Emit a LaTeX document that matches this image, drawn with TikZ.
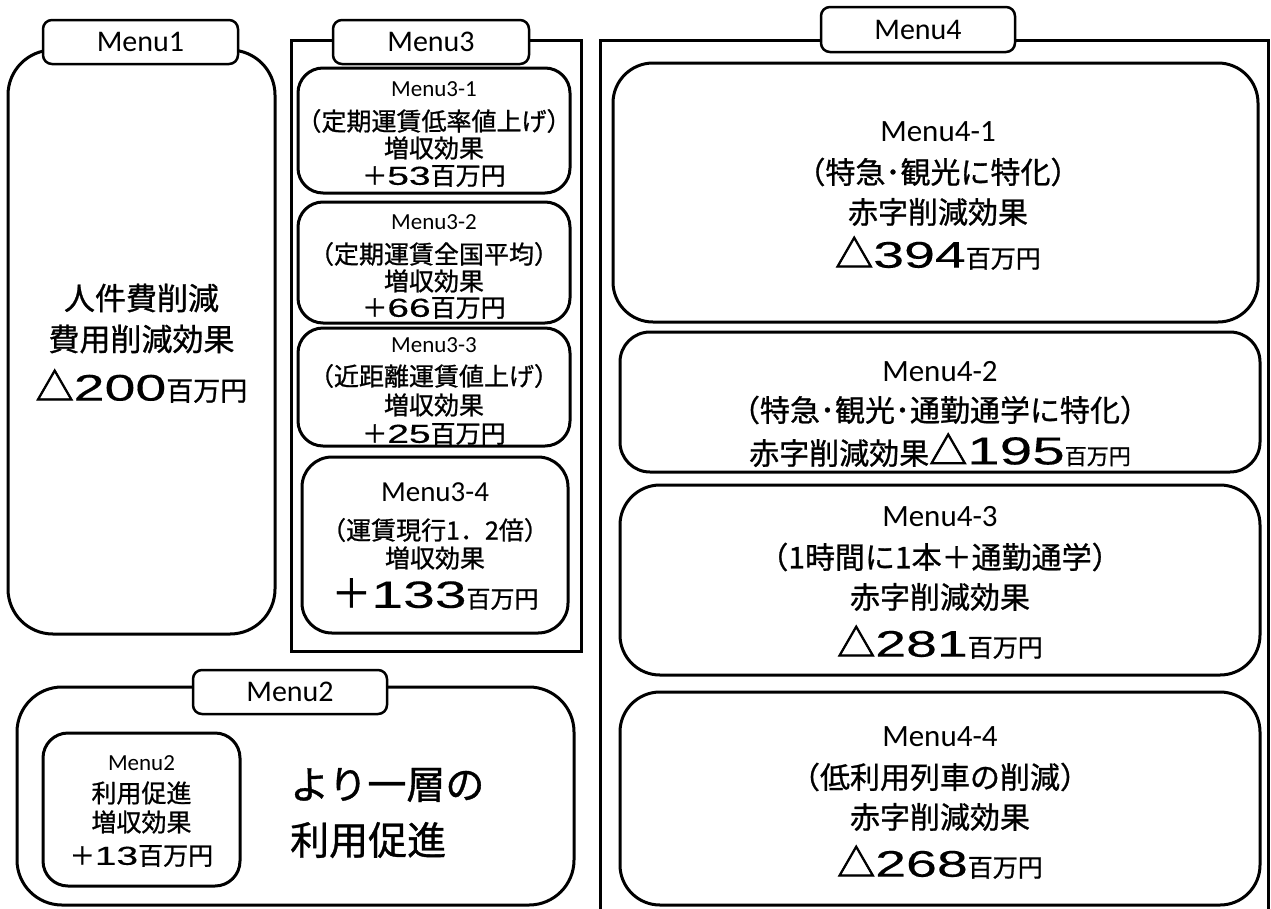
\documentclass[tikz,border=0pt]{standalone}
\usepackage{fontspec}
\setmainfont{Carlito}
\newfontfamily\jp[FakeBold=0.9]{Noto Sans CJK JP}
\newfontfamily\jptri[FakeBold=2.2]{Noto Sans CJK JP}
\newfontfamily\wdg[FakeStretch=1.5,FakeBold=0.3]{Liberation Sans}
\newcommand\fs[1]{\fontsize{#1}{#1}\selectfont}
\newcommand\tri{{\jptri\fs{38}△}}
\tikzset{
  frame/.style={draw, line width=3pt, rounded corners=45pt, inner sep=0pt},
  sqframe/.style={draw, line width=3pt, inner sep=0pt},
  tabbox/.style={draw, line width=2.5pt, fill=white, rounded corners=9pt, inner sep=0pt, font=\fs{30}},
  ibox/.style={draw, line width=3pt, rounded corners=#1, inner sep=0pt},
  txt/.style={inner sep=0pt, align=center},
}
\begin{document}
\begin{tikzpicture}[x=1pt,y=-1pt]
\useasboundingbox[fill=white] (0,0) rectangle (1271,908);

% ---------- Menu1 ----------
\node[frame, minimum width=267pt, minimum height=584pt] (f1) at (141.5,342) {};
\node[tabbox, minimum width=195pt, minimum height=44pt] (tab1) at (140.5,42) {Menu1};
\node[txt] (t1a) at (141.5,298) {\jp\fs{31}人件費削減};
\node[txt] (t1b) at (141.5,339) {\jp\fs{31}費用削減効果};
\node[txt] (t1c) at (141.5,386) {\tri\wdg\fs{37}200\jp\fs{27}百万円};

% ---------- Menu3 ----------
\node[sqframe, minimum width=290pt, minimum height=611pt] (f3) at (436,345.5) {};
\node[tabbox, minimum width=196pt, minimum height=44pt] (tab3) at (431,42) {Menu3};

\node[ibox=25pt, minimum width=272pt, minimum height=125pt] (m31) at (434,130.5) {};
\node[txt] (m31a) at (434,89) {\fs{23}Menu3-1};
\node[txt] (m31b) at (434,121) {\jp\fs{25}（定期運賃低率値上げ）};
\node[txt] (m31c) at (434,148) {\jp\fs{25}増収効果};
\node[txt] (m31d) at (434,176) {\jp\fs{25}＋\wdg\fs{26}53\jp\fs{25}百万円};

\node[ibox=25pt, minimum width=272pt, minimum height=121pt] (m32) at (434,262.5) {};
\node[txt] (m32a) at (434,222) {\fs{23}Menu3-2};
\node[txt] (m32b) at (434,254) {\jp\fs{25}（定期運賃全国平均）};
\node[txt] (m32c) at (434,281) {\jp\fs{25}増収効果};
\node[txt] (m32d) at (434,308) {\jp\fs{25}＋\wdg\fs{26}66\jp\fs{25}百万円};

\node[ibox=25pt, minimum width=272pt, minimum height=118pt] (m33) at (434,387) {};
\node[txt] (m33a) at (434,345) {\fs{23}Menu3-3};
\node[txt] (m33b) at (434,376) {\jp\fs{25}（近距離運賃値上げ）};
\node[txt] (m33c) at (434,405) {\jp\fs{25}増収効果};
\node[txt] (m33d) at (434,434) {\jp\fs{25}＋\wdg\fs{26}25\jp\fs{25}百万円};

\node[ibox=30pt, minimum width=266pt, minimum height=176pt] (m34) at (435,545) {};
\node[txt] (m34a) at (435,492) {\fs{29}Menu3-4};
\node[txt] (m34b) at (435,530) {\jp\fs{25}（運賃現行1．2倍）};
\node[txt] (m34c) at (435,558) {\jp\fs{25}増収効果};
\node[txt] (m34d) at (435,594) {\jp\fs{40}＋\wdg\fs{38}133\jp\fs{24}百万円};

% ---------- Menu2 ----------
\node[frame, minimum width=557pt, minimum height=218pt] (f2) at (295.5,796) {};
\node[tabbox, minimum width=194pt, minimum height=44pt] (tab2) at (290,692) {Menu2};
\node[ibox=25pt, minimum width=197pt, minimum height=153pt] (m2) at (141.5,809.5) {};
\node[txt] (m2a) at (141.5,763) {\fs{23}Menu2};
\node[txt] (m2b) at (141.5,793) {\jp\fs{25}利用促進};
\node[txt] (m2c) at (141.5,822) {\jp\fs{25}増収効果};
\node[txt] (m2d) at (141.5,856) {\jp\fs{25}＋\wdg\fs{26}13\jp\fs{25}百万円};
\node[txt, anchor=west] (big1) at (290,785) {\jp\fs{39}より一層の};
\node[txt, anchor=west] (big2) at (290,840) {\jp\fs{39}利用促進};

% ---------- Menu4 ----------
\node[sqframe, minimum width=668pt, minimum height=890pt] (f4) at (934,485) {};
\node[tabbox, minimum width=194pt, minimum height=45pt] (tab4) at (918,29.5) {Menu4};

\node[ibox=40pt, minimum width=645pt, minimum height=259pt] (m41) at (935.5,192.5) {};
\node[txt] (m41a) at (938,132) {\fs{31}Menu4-1};
\node[txt] (m41b) at (938,172) {\jp\fs{30}（特急･観光に特化）};
\node[txt] (m41c) at (938,212) {\jp\fs{30}赤字削減効果};
\node[txt] (m41d) at (938,253) {\tri\wdg\fs{37}394\jp\fs{25}百万円};

\node[ibox=30pt, minimum width=640pt, minimum height=140pt] (m42) at (940,402) {};
\node[txt] (m42a) at (940,372) {\fs{31}Menu4-2};
\node[txt] (m42b) at (940,410) {\jp\fs{30}（特急･観光･通勤通学に特化）};
\node[txt] (m42c) at (940,450) {\jp\fs{30}赤字削減効果\tri\wdg\fs{39}195\jp\fs{22}百万円};

\node[ibox=40pt, minimum width=640pt, minimum height=190pt] (m43) at (940,580) {};
\node[txt] (m43a) at (940,517) {\fs{31}Menu4-3};
\node[txt] (m43b) at (940,557) {\jp\fs{30}（1時間に1本＋通勤通学）};
\node[txt] (m43c) at (940,597) {\jp\fs{30}赤字削減効果};
\node[txt] (m43d) at (940,642) {\tri\wdg\fs{37}281\jp\fs{25}百万円};

\node[ibox=40pt, minimum width=640pt, minimum height=213pt] (m44) at (940,798.5) {};
\node[txt] (m44a) at (940,737) {\fs{31}Menu4-4};
\node[txt] (m44b) at (940,777) {\jp\fs{30}（低利用列車の削減）};
\node[txt] (m44c) at (940,817) {\jp\fs{30}赤字削減効果};
\node[txt] (m44d) at (940,862) {\tri\wdg\fs{37}268\jp\fs{25}百万円};
\end{tikzpicture}
\end{document}
